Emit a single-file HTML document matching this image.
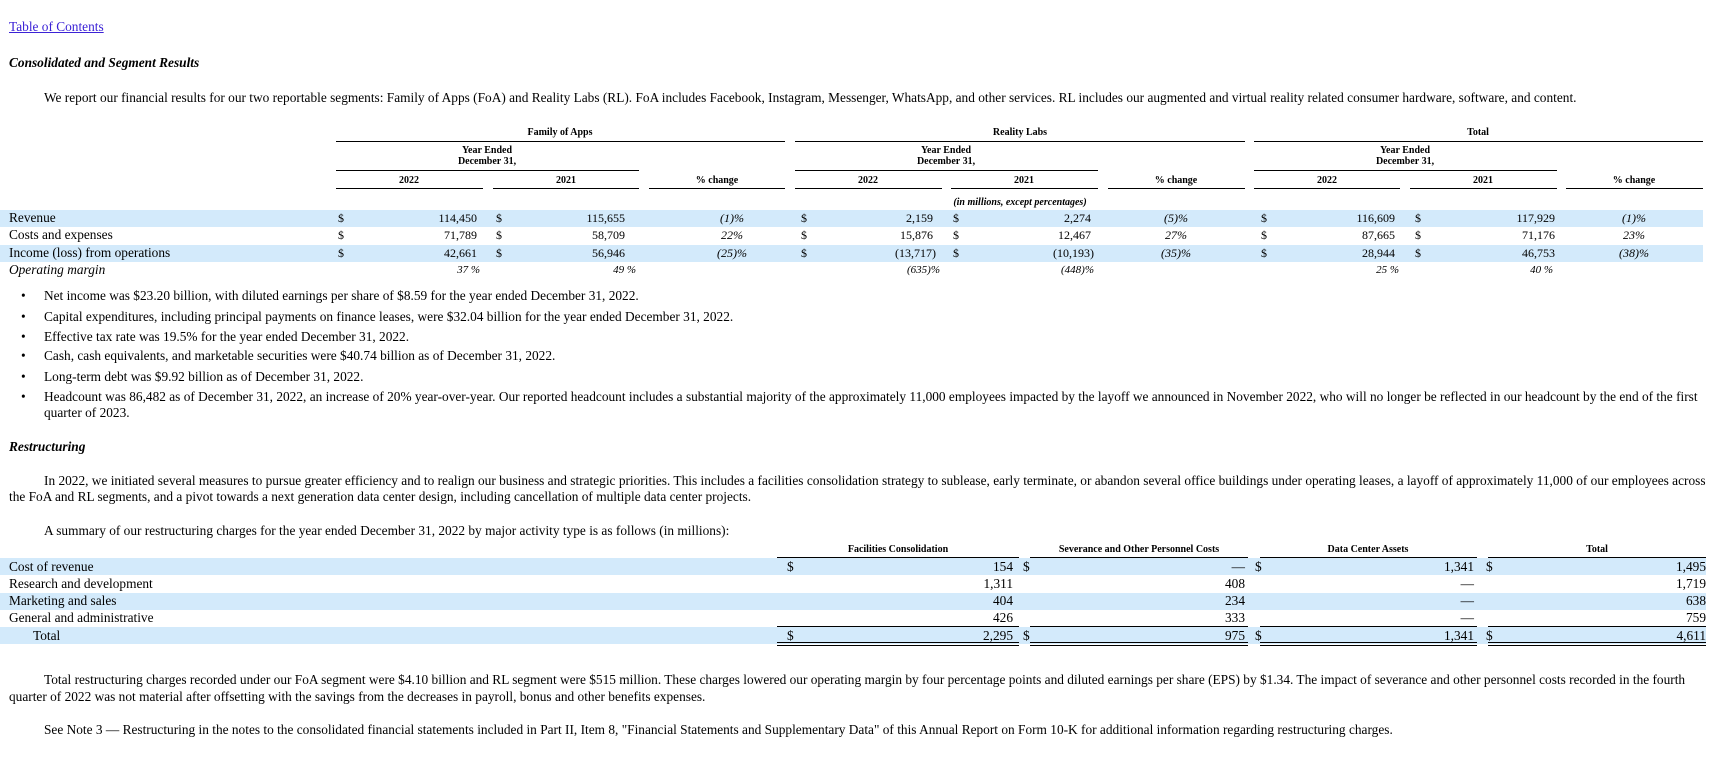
<!DOCTYPE html>
<html><head><meta charset="utf-8"><style>
body{margin:0;width:1711px;height:777px;background:#fff;position:relative;overflow:hidden;font-family:"Liberation Serif",serif;color:#000}
.t{position:absolute;white-space:nowrap;line-height:16px;font-size:13.35px}
.h{position:absolute;white-space:nowrap;font-size:10px;font-weight:bold;line-height:11px;text-align:center}
.ln{position:absolute;height:1px;background:#000}
.band{position:absolute;left:0;background:#d3eafb}
.r{text-align:right}
.c{text-align:center;width:80px}
.i{font-style:italic}
</style></head><body>
<div class="t" style="left:9px;top:19px;text-decoration:underline;color:#3b22d6">Table of Contents</div>
<div class="t" style="left:9px;top:55px;font-weight:bold;font-style:italic">Consolidated and Segment Results</div>
<div class="t" style="left:44px;top:90px">We report our financial results for our two reportable segments: Family of Apps (FoA) and Reality Labs (RL). FoA includes Facebook, Instagram, Messenger, WhatsApp, and other services. RL includes our augmented and virtual reality related consumer hardware, software, and content.</div>

<!-- table 1 headers -->
<div class="h" style="left:460px;width:200px;top:127px">Family of Apps</div>
<div class="h" style="left:920px;width:200px;top:127px">Reality Labs</div>
<div class="h" style="left:1378px;width:200px;top:127px">Total</div>
<div class="ln" style="left:336px;width:449px;top:141px"></div>
<div class="ln" style="left:795px;width:450px;top:141px"></div>
<div class="ln" style="left:1254px;width:449px;top:141px"></div>
<div class="h" style="left:387px;width:200px;top:145px">Year Ended<br>December 31,</div>
<div class="h" style="left:846px;width:200px;top:145px">Year Ended<br>December 31,</div>
<div class="h" style="left:1305px;width:200px;top:145px">Year Ended<br>December 31,</div>
<div class="ln" style="left:336px;width:303px;top:170px"></div>
<div class="ln" style="left:795px;width:303px;top:170px"></div>
<div class="ln" style="left:1254px;width:303px;top:170px"></div>
<div class="h" style="left:369px;width:80px;top:175px">2022</div>
<div class="h" style="left:526px;width:80px;top:175px">2021</div>
<div class="h" style="left:677px;width:80px;top:175px">% change</div>
<div class="h" style="left:828px;width:80px;top:175px">2022</div>
<div class="h" style="left:984px;width:80px;top:175px">2021</div>
<div class="h" style="left:1136px;width:80px;top:175px">% change</div>
<div class="h" style="left:1287px;width:80px;top:175px">2022</div>
<div class="h" style="left:1443px;width:80px;top:175px">2021</div>
<div class="h" style="left:1594px;width:80px;top:175px">% change</div>
<div class="ln" style="left:336px;width:147px;top:188px"></div>
<div class="ln" style="left:493px;width:146px;top:188px"></div>
<div class="ln" style="left:649px;width:136px;top:188px"></div>
<div class="ln" style="left:795px;width:147px;top:188px"></div>
<div class="ln" style="left:951px;width:147px;top:188px"></div>
<div class="ln" style="left:1108px;width:137px;top:188px"></div>
<div class="ln" style="left:1254px;width:146px;top:188px"></div>
<div class="ln" style="left:1410px;width:147px;top:188px"></div>
<div class="ln" style="left:1566px;width:137px;top:188px"></div>
<div class="h i" style="left:920px;width:200px;top:197px">(in millions, except percentages)</div>

<div class="band" style="top:210px;height:17px;width:1703px"></div>
<div class="band" style="top:245px;height:17px;width:1703px"></div>

<div class="t" style="left:9px;top:210px">Revenue</div>
<div class="t" style="left:9px;top:227px">Costs and expenses</div>
<div class="t" style="left:9px;top:245px">Income (loss) from operations</div>
<div class="t i" style="left:9px;top:262px">Operating margin</div>

<div class="t" style="left:338px;top:210px;font-size:12px">$</div><div class="t" style="left:496px;top:210px;font-size:12px">$</div><div class="t" style="left:801px;top:210px;font-size:12px">$</div><div class="t" style="left:953px;top:210px;font-size:12px">$</div><div class="t" style="left:1261px;top:210px;font-size:12px">$</div><div class="t" style="left:1415px;top:210px;font-size:12px">$</div>
<div class="t" style="left:338px;top:227px;font-size:12px">$</div><div class="t" style="left:496px;top:227px;font-size:12px">$</div><div class="t" style="left:801px;top:227px;font-size:12px">$</div><div class="t" style="left:953px;top:227px;font-size:12px">$</div><div class="t" style="left:1261px;top:227px;font-size:12px">$</div><div class="t" style="left:1415px;top:227px;font-size:12px">$</div>
<div class="t" style="left:338px;top:245px;font-size:12px">$</div><div class="t" style="left:496px;top:245px;font-size:12px">$</div><div class="t" style="left:801px;top:245px;font-size:12px">$</div><div class="t" style="left:953px;top:245px;font-size:12px">$</div><div class="t" style="left:1261px;top:245px;font-size:12px">$</div><div class="t" style="left:1415px;top:245px;font-size:12px">$</div>

<div class="t r" style="right:1234px;top:210px;font-size:12px">114,450</div>
<div class="t r" style="right:1086px;top:210px;font-size:12px">115,655</div>
<div class="t c i" style="left:692px;top:210px;font-size:12px">(1)%</div>
<div class="t r" style="right:778px;top:210px;font-size:12px">2,159</div>
<div class="t r" style="right:620px;top:210px;font-size:12px">2,274</div>
<div class="t c i" style="left:1136px;top:210px;font-size:12px">(5)%</div>
<div class="t r" style="right:316px;top:210px;font-size:12px">116,609</div>
<div class="t r" style="right:156px;top:210px;font-size:12px">117,929</div>
<div class="t c i" style="left:1594px;top:210px;font-size:12px">(1)%</div>

<div class="t r" style="right:1234px;top:227px;font-size:12px">71,789</div>
<div class="t r" style="right:1086px;top:227px;font-size:12px">58,709</div>
<div class="t c i" style="left:692px;top:227px;font-size:12px">22%</div>
<div class="t r" style="right:778px;top:227px;font-size:12px">15,876</div>
<div class="t r" style="right:620px;top:227px;font-size:12px">12,467</div>
<div class="t c i" style="left:1136px;top:227px;font-size:12px">27%</div>
<div class="t r" style="right:316px;top:227px;font-size:12px">87,665</div>
<div class="t r" style="right:156px;top:227px;font-size:12px">71,176</div>
<div class="t c i" style="left:1594px;top:227px;font-size:12px">23%</div>

<div class="t r" style="right:1234px;top:245px;font-size:12px">42,661</div>
<div class="t r" style="right:1086px;top:245px;font-size:12px">56,946</div>
<div class="t c i" style="left:692px;top:245px;font-size:12px">(25)%</div>
<div class="t r" style="right:775px;top:245px;font-size:12px">(13,717)</div>
<div class="t r" style="right:617px;top:245px;font-size:12px">(10,193)</div>
<div class="t c i" style="left:1136px;top:245px;font-size:12px">(35)%</div>
<div class="t r" style="right:316px;top:245px;font-size:12px">28,944</div>
<div class="t r" style="right:156px;top:245px;font-size:12px">46,753</div>
<div class="t c i" style="left:1594px;top:245px;font-size:12px">(38)%</div>

<div class="t r i" style="right:1231px;top:262px;font-size:11px">37 %</div>
<div class="t r i" style="right:1075px;top:262px;font-size:11px">49 %</div>
<div class="t r i" style="right:771px;top:262px;font-size:11px">(635)%</div>
<div class="t r i" style="right:617px;top:262px;font-size:11px">(448)%</div>
<div class="t r i" style="right:312px;top:262px;font-size:11px">25 %</div>
<div class="t r i" style="right:158px;top:262px;font-size:11px">40 %</div>

<div class="t" style="left:21px;top:288px">•</div><div class="t" style="left:44px;top:288px">Net income was $23.20 billion, with diluted earnings per share of $8.59 for the year ended December 31, 2022.</div>
<div class="t" style="left:21px;top:309px">•</div><div class="t" style="left:44px;top:309px">Capital expenditures, including principal payments on finance leases, were $32.04 billion for the year ended December 31, 2022.</div>
<div class="t" style="left:21px;top:329px">•</div><div class="t" style="left:44px;top:329px">Effective tax rate was 19.5% for the year ended December 31, 2022.</div>
<div class="t" style="left:21px;top:348px">•</div><div class="t" style="left:44px;top:348px">Cash, cash equivalents, and marketable securities were $40.74 billion as of December 31, 2022.</div>
<div class="t" style="left:21px;top:369px">•</div><div class="t" style="left:44px;top:369px">Long-term debt was $9.92 billion as of December 31, 2022.</div>
<div class="t" style="left:21px;top:389px">•</div><div class="t" style="left:44px;top:389px">Headcount was 86,482 as of December 31, 2022, an increase of 20% year-over-year. Our reported headcount includes a substantial majority of the approximately 11,000 employees impacted by the layoff we announced in November 2022, who will no longer be reflected in our headcount by the end of the first</div>
<div class="t" style="left:44px;top:405px">quarter of 2023.</div>

<div class="t" style="left:9px;top:439px;font-weight:bold;font-style:italic">Restructuring</div>
<div class="t" style="left:44px;top:473px">In 2022, we initiated several measures to pursue greater efficiency and to realign our business and strategic priorities. This includes a facilities consolidation strategy to sublease, early terminate, or abandon several office buildings under operating leases, a layoff of approximately 11,000 of our employees across</div>
<div class="t" style="left:9px;top:489px">the FoA and RL segments, and a pivot towards a next generation data center design, including cancellation of multiple data center projects.</div>
<div class="t" style="left:44px;top:523px">A summary of our restructuring charges for the year ended December 31, 2022 by major activity type is as follows (in millions):</div>

<div class="h" style="left:798px;width:200px;top:544px">Facilities Consolidation</div>
<div class="h" style="left:1039px;width:200px;top:544px">Severance and Other Personnel Costs</div>
<div class="h" style="left:1268px;width:200px;top:544px">Data Center Assets</div>
<div class="h" style="left:1497px;width:200px;top:544px">Total</div>
<div class="ln" style="left:777px;width:242px;top:557px"></div>
<div class="ln" style="left:1030px;width:218px;top:557px"></div>
<div class="ln" style="left:1260px;width:217px;top:557px"></div>
<div class="ln" style="left:1488px;width:218px;top:557px"></div>

<div class="band" style="top:558px;height:17px;width:1706px"></div>
<div class="band" style="top:593px;height:17px;width:1706px"></div>
<div class="band" style="top:627px;height:17px;width:1706px"></div>

<div class="t" style="left:9px;top:559px">Cost of revenue</div>
<div class="t" style="left:9px;top:576px">Research and development</div>
<div class="t" style="left:9px;top:593px">Marketing and sales</div>
<div class="t" style="left:9px;top:610px">General and administrative</div>
<div class="t" style="left:33px;top:628px">Total</div>

<div class="t" style="left:787px;top:559px">$</div><div class="t" style="left:1023px;top:559px">$</div><div class="t" style="left:1255px;top:559px">$</div><div class="t" style="left:1486px;top:559px">$</div>
<div class="t r" style="right:698px;top:559px">154</div><div class="t r" style="right:466px;top:559px">—</div><div class="t r" style="right:237px;top:559px">1,341</div><div class="t r" style="right:5px;top:559px">1,495</div>
<div class="t r" style="right:698px;top:576px">1,311</div><div class="t r" style="right:466px;top:576px">408</div><div class="t r" style="right:237px;top:576px">—</div><div class="t r" style="right:5px;top:576px">1,719</div>
<div class="t r" style="right:698px;top:593px">404</div><div class="t r" style="right:466px;top:593px">234</div><div class="t r" style="right:237px;top:593px">—</div><div class="t r" style="right:5px;top:593px">638</div>
<div class="t r" style="right:698px;top:610px">426</div><div class="t r" style="right:466px;top:610px">333</div><div class="t r" style="right:237px;top:610px">—</div><div class="t r" style="right:5px;top:610px">759</div>
<div class="ln" style="left:777px;width:242px;top:626px"></div><div class="ln" style="left:1030px;width:218px;top:626px"></div><div class="ln" style="left:1260px;width:217px;top:626px"></div><div class="ln" style="left:1488px;width:218px;top:626px"></div>
<div class="t" style="left:787px;top:628px">$</div><div class="t" style="left:1023px;top:628px">$</div><div class="t" style="left:1255px;top:628px">$</div><div class="t" style="left:1486px;top:628px">$</div>
<div class="t r" style="right:698px;top:628px">2,295</div><div class="t r" style="right:466px;top:628px">975</div><div class="t r" style="right:237px;top:628px">1,341</div><div class="t r" style="right:5px;top:628px">4,611</div>
<div class="ln" style="left:777px;width:242px;top:642px"></div><div class="ln" style="left:1030px;width:218px;top:642px"></div><div class="ln" style="left:1260px;width:217px;top:642px"></div><div class="ln" style="left:1488px;width:218px;top:642px"></div>
<div class="ln" style="left:777px;width:242px;top:645px"></div><div class="ln" style="left:1030px;width:218px;top:645px"></div><div class="ln" style="left:1260px;width:217px;top:645px"></div><div class="ln" style="left:1488px;width:218px;top:645px"></div>

<div class="t" style="left:44px;top:672px">Total restructuring charges recorded under our FoA segment were $4.10 billion and RL segment were $515 million. These charges lowered our operating margin by four percentage points and diluted earnings per share (EPS) by $1.34. The impact of severance and other personnel costs recorded in the fourth</div>
<div class="t" style="left:9px;top:689px">quarter of 2022 was not material after offsetting with the savings from the decreases in payroll, bonus and other benefits expenses.</div>
<div class="t" style="left:44px;top:722px">See Note 3 — Restructuring in the notes to the consolidated financial statements included in Part II, Item 8, "Financial Statements and Supplementary Data" of this Annual Report on Form 10-K for additional information regarding restructuring charges.</div>
</body></html>
